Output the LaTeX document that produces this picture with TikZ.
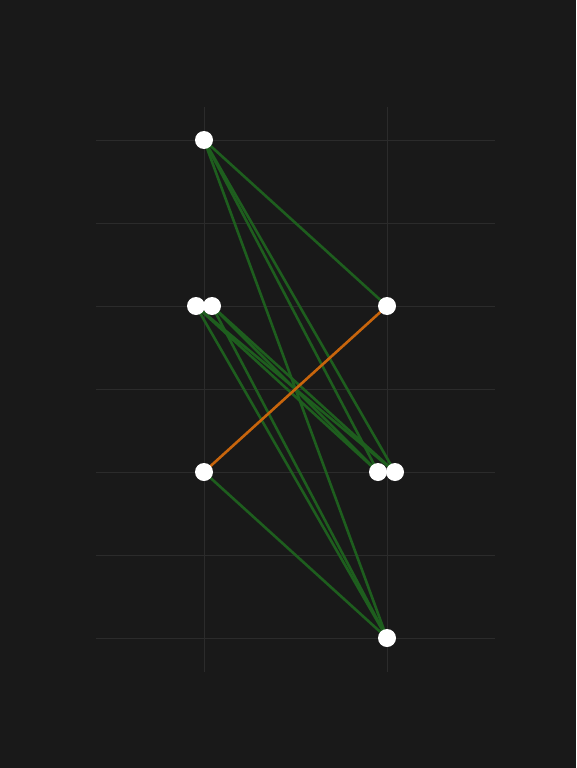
\documentclass[tikz,border=0pt]{standalone}
\usepackage{tikz}
\usetikzlibrary{calc}
\definecolor{bgdark}{HTML}{191919}
\definecolor{gridgray}{HTML}{2B2B2B}
\definecolor{edgegreen}{HTML}{1E5E1E}
\definecolor{edgeorange}{HTML}{C8650C}

\begin{document}
\begin{tikzpicture}[x=1pt, y=-1pt,
  vert/.style={circle, fill=white, inner sep=0pt, minimum size=18pt},
  link/.style={edgegreen, line width=2.6pt},
  hot/.style={edgeorange, line width=2.6pt}]
% --- Background ---
\fill[bgdark] (0,0) rectangle (576,768);
\useasboundingbox (0,0) rectangle (576,768);

% --- Grid ---
\foreach \y in {140,223,306,389,472,555,638}{
  \draw[gridgray, line width=1pt] (96,\y)--(495,\y);
}
\foreach \x in {204,387}{
  \draw[gridgray, line width=1pt] (\x,107)--(\x,672);
}

% --- Vertices ---
\foreach \n/\x/\y in {a/204/140, b1/196/306, b2/212/306, c/387/306,
                      d/204/472, e1/378/472, e2/395/472, f/387/638}{
  \coordinate (\n) at (\x,\y);
}

% --- Green edges ---
\foreach \s/\t in {a/c, a/e1, a/e2, a/f, b1/e1, b1/e2, b2/e1, b2/e2,
                   b1/f, b2/f, d/f}{
  \draw[link] (\s)--(\t);
}

% --- Orange edge ---
\draw[hot] (d)--(c);

% --- Vertex dots ---
\foreach \n in {a,b1,b2,c,d,e1,e2,f}{
  \node[vert] (v\n) at (\n) {};
}
\end{tikzpicture}
\end{document}
